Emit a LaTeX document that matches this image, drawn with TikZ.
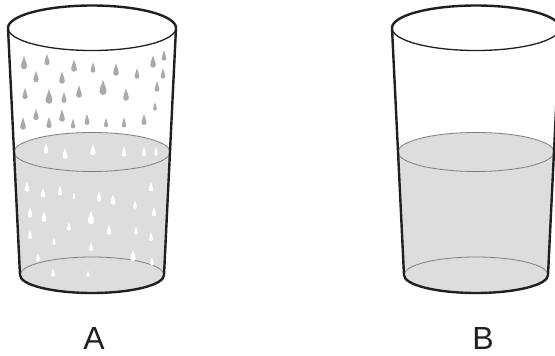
\documentclass[tikz,border=0pt]{standalone}
\usepackage{fontspec}
\setmainfont{Liberation Sans}
\begin{document}
\begin{tikzpicture}[x=1pt,y=-1pt,line join=round,line cap=round]
\definecolor{ink}{HTML}{231F20}
\definecolor{waterfill}{HTML}{DCDDDF}
\definecolor{surfline}{HTML}{7D7E80}
\definecolor{dropgray}{HTML}{A8AAAD}
\tikzset{
  wall/.style={draw=ink,line width=2.4pt},
  rimfront/.style={draw=ink,line width=1.3pt},
  surf/.style={draw=surfline,line width=0.8pt},
  % a teardrop with its point upwards, unit radius
  drop/.pic={
    \fill (0,-2.4) .. controls (0.3,-1) and (1,0) .. (1,1)
      arc(0:180:1) .. controls (-1,0) and (-0.3,-1) .. cycle;
  },
  % a half-filled drinking glass, centred on the pic origin
  glass/.pic={
    \fill[waterfill] (-78,152) arc(180:360:78 and 19.5)
      -- (72,275) arc(0:180:72 and 18) -- cycle;
    \draw[surf] (0,152) ellipse (78 and 19.5);
    \draw[surf] (-72,275) arc(180:360:72 and 18);
    \draw[wall] (-84,28) -- (-72,275) arc(180:0:72 and 18) -- (84,28);
    \draw[wall] (-84,28) arc(180:360:84 and 22.5);
    \draw[rimfront] (-84,28) arc(180:0:84 and 22.5);
  }
}
\useasboundingbox (0,0) rectangle (555,356);
\clip (0,0) rectangle (555,356);
\fill[white] (0,0) rectangle (555,356);

% glass A with drops above and in the water
\pic at (92,0) {glass};
\foreach \x/\y/\r in {24/63/2.4,47/60/2.0,74/66/2.2,93/68/1.8,116/70/2.2,
  137/74/1.8,153/62/2.2,164/56/1.8,36/77/2.0,62/78/2.2,163/74/1.8,
  25/94/2.0,49/97/2.6,64/98/1.9,79/92/2.2,103/88/2.7,126/95/2.2,
  157/87/1.8,155/107/1.5,36/115/2.0,62/116/2.2,23/124/2.2,49/123/2.0,
  73/124/1.7,87/120/1.9,106/123/1.6,124/123/1.7,144/120/1.9}
  \pic[fill=dropgray,scale=1.3*\r] at (\x,\y) {drop};
\foreach \x/\y/\r in {46/149/1.8,65/154/2.0,93/150/2.0,124/152/1.8,
  144/152/1.7,156/152/1.5,27/187/1.8,43/193/1.7,60/191/1.7,74/196/1.2,
  99/197/1.8,113/200/1.8,135/205/1.5,151/187/1.7,30/213/1.8,44/217/1.9,
  69/227/1.5,91/218/2.4,154/212/1.7,30/235/1.6,54/242/1.3,91/247/1.6,
  109/230/1.8,136/231/1.5,151/237/1.6,38/258/1.5,133/256/2.0,
  152/262/1.5,53/273/1.5,88/274/1.2}
  \pic[fill=white,scale=1.3*\r] at (\x,\y) {drop};

% glass B, plain water
\pic at (476,0) {glass};

\node[font=\fontsize{32}{32}\selectfont,text=ink] (labelA) at (94,338) {A};
\node[font=\fontsize{32}{32}\selectfont,text=ink] (labelB) at (483,338) {B};
\end{tikzpicture}
\end{document}
